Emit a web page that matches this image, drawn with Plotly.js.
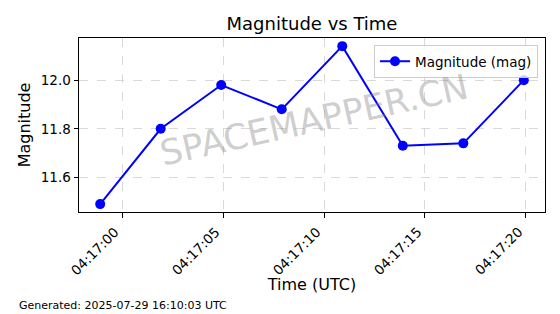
<!DOCTYPE html>
<html>
<head>
<meta charset="utf-8">
<script src="https://cdn.plot.ly/plotly-3.0.1.min.js"></script>
<style>
html,body{margin:0;padding:0;background:#fff;}
#chart{width:560px;height:314px;}
</style>
</head>
<body>
<div id="chart"></div>
<script>
var times = [
  "2025-07-29 04:16:58.9",
  "2025-07-29 04:17:01.9",
  "2025-07-29 04:17:04.9",
  "2025-07-29 04:17:07.9",
  "2025-07-29 04:17:10.9",
  "2025-07-29 04:17:13.9",
  "2025-07-29 04:17:16.9",
  "2025-07-29 04:17:19.9"
];
var magnitudes = [11.49, 11.80, 11.98, 11.88, 12.14, 11.73, 11.74, 12.00];
var seriesName = "Magnitude (mag)";
var xTicks = [
  "2025-07-29 04:17:00",
  "2025-07-29 04:17:05",
  "2025-07-29 04:17:10",
  "2025-07-29 04:17:15",
  "2025-07-29 04:17:20"
];
var xTickLabels = ["04:17:00", "04:17:05", "04:17:10", "04:17:15", "04:17:20"];
var yTicks = [11.6, 11.8, 12.0];
var yTickLabels = ["11.6", "11.8", "12.0"];
var xRange = ["2025-07-29 04:16:57.85", "2025-07-29 04:17:20.95"];
var yRange = [11.4575, 12.1735];

var font = "DejaVu Sans, sans-serif";

var trace = {
  x: times,
  y: magnitudes,
  type: "scatter",
  mode: "lines+markers",
  name: seriesName,
  line: {color: "#0000ff", width: 2},
  marker: {color: "#0000ff", size: 10}
};

var axisCommon = {
  showline: true,
  linecolor: "#000",
  linewidth: 1,
  mirror: true,
  ticks: "outside",
  ticklen: 4.5,
  tickcolor: "#000",
  showgrid: true,
  gridcolor: "#cfcfcf",
  gridwidth: 0.8,
  griddash: "dash",
  zeroline: false,
  tickfont: {family: font, size: 13.5, color: "#000"}
};

var annotations = [
  {
    text: "SPACEMAPPER.CN",
    xref: "paper", yref: "paper",
    x: 0.505, y: 0.53,
    xanchor: "center", yanchor: "middle",
    showarrow: false,
    textangle: -12.5,
    font: {family: font, size: 35, color: "rgba(128,128,128,0.4)"}
  },
  {
    text: "Generated: 2025-07-29 16:10:03 UTC",
    xref: "paper", yref: "paper",
    x: (17 - 79) / 466, y: -(305 - 212) / 174,
    xanchor: "left", yanchor: "middle",
    showarrow: false,
    font: {family: font, size: 11, color: "#000"}
  }
];
xTicks.forEach(function (t, i) {
  annotations.push({
    text: xTickLabels[i],
    xref: "x", yref: "paper",
    x: t, y: -(222 - 212) / 174,
    xanchor: "right", yanchor: "top",
    xshift: 1,
    showarrow: false,
    textangle: -45,
    borderpad: 0,
    font: {family: font, size: 13.5, color: "#000"}
  });
});

var layout = {
  width: 560,
  height: 314,
  margin: {l: 79, r: 15, t: 38, b: 102},
  paper_bgcolor: "#fff",
  plot_bgcolor: "#fff",
  font: {family: font, color: "#000"},
  title: {
    text: "Magnitude vs Time",
    font: {family: font, size: 18, color: "#000"},
    x: 0.5, xanchor: "center", xref: "paper",
    y: 0.925, yanchor: "middle"
  },
  showlegend: true,
  legend: {
    x: 0.985, xanchor: "right",
    y: 0.96, yanchor: "top",
    bgcolor: "rgba(255,255,255,0.8)",
    bordercolor: "#cccccc",
    borderwidth: 1,
    font: {family: font, size: 13.5, color: "#000"}
  },
  xaxis: Object.assign({}, axisCommon, {
    type: "date",
    range: xRange,
    tickmode: "array",
    tickvals: xTicks,
    ticktext: xTickLabels,
    showticklabels: false,
    title: {text: "Time (UTC)", font: {family: font, size: 16, color: "#000"}, standoff: 62}
  }),
  yaxis: Object.assign({}, axisCommon, {
    range: yRange,
    tickmode: "array",
    tickvals: yTicks,
    ticktext: yTickLabels,
    title: {text: "Magnitude", font: {family: font, size: 16, color: "#000"}, standoff: 6}
  }),
  annotations: annotations
};

Plotly.newPlot("chart", [trace], layout, {displayModeBar: false, staticPlot: true});
</script>
</body>
</html>
